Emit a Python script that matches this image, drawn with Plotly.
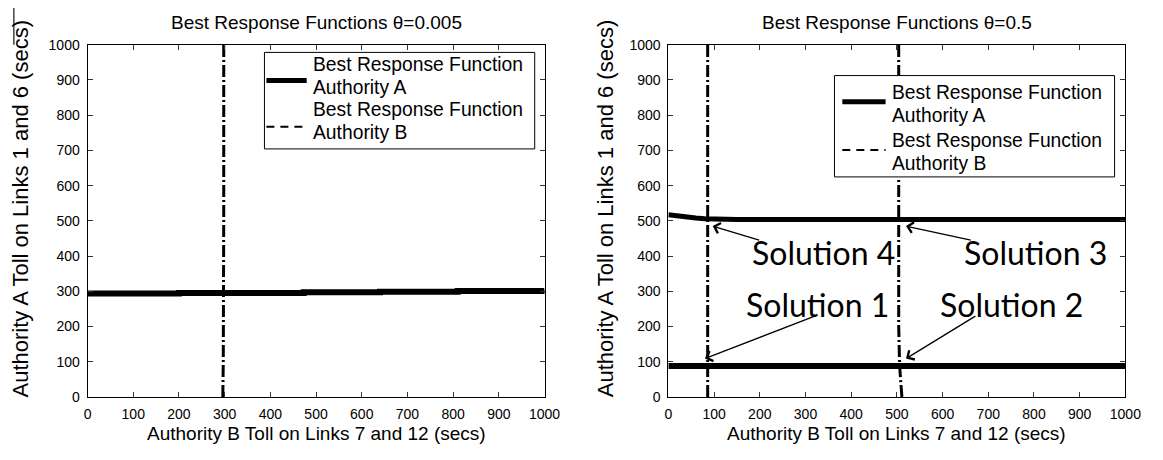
import plotly.graph_objects as go

W, H = 1163, 460

# ---------------- data ----------------
ticks = [0, 100, 200, 300, 400, 500, 600, 700, 800, 900, 1000]

# left panel (theta = 0.005)
left_a_x = [0, 200, 473, 640, 810, 1000]
left_a_y = [294, 295, 297, 299, 301, 303]
left_b_x = [296, 297, 298, 298]
left_b_y = [0, 100, 500, 1000]

# right panel (theta = 0.5)
right_a_low_x = [0, 1000]
right_a_low_y = [88, 88]
right_a_up_x = [0, 20, 40, 60, 80, 100, 150, 1000]
right_a_up_y = [517, 513, 510, 508, 506, 505, 504, 504]
right_b1_x = [86, 86, 86]
right_b1_y = [0, 500, 1000]
right_b2_x = [511, 506, 504, 504]
right_b2_y = [0, 88, 200, 1000]

solution_labels = ["Solution 4", "Solution 3", "Solution 1", "Solution 2"]
solution_text_x = [340, 804, 327, 750]
solution_text_y = [409, 409, 262, 262]
solution_tip_x = [97, 520, 80, 520]
solution_tip_y = [485, 485, 109, 109]
solution_tail_x = [202, 665, 325, 675]
solution_tail_y = [444, 444, 232, 232]

titles = ["Best Response Functions \u03b8=0.005", "Best Response Functions \u03b8=0.5"]
xtitle = "Authority B Toll on Links 7 and 12 (secs)"
ytitle = "Authority A Toll on Links 1 and 6 (secs)"
legend_lines = ["Best Response Function", "Authority A", "Best Response Function", "Authority B"]

# ---------------- layout geometry (pixels) ----------------
L1, R1 = 85, 550
L2, R2 = 676, 1141
TOP, BOT = 38, 403

def px(v):
    return v / W

def py(v):
    return 1 - v / H

FONT = "Liberation Sans, Arial, sans-serif"
DASHDOT = "12px,3px,2px,3px"

fig = go.Figure()

line_a = dict(color="black", width=6)
line_b = dict(color="black", width=3, dash=DASHDOT)

fig.add_trace(go.Scatter(x=left_a_x, y=left_a_y, mode="lines", line=dict(shape="hv", **line_a),
                         showlegend=False, xaxis="x", yaxis="y"))
fig.add_trace(go.Scatter(x=left_b_x, y=left_b_y, mode="lines", line=line_b,
                         showlegend=False, xaxis="x", yaxis="y"))

fig.add_trace(go.Scatter(x=right_a_low_x, y=right_a_low_y, mode="lines", line=line_a,
                         showlegend=False, xaxis="x2", yaxis="y2"))
fig.add_trace(go.Scatter(x=right_a_up_x, y=right_a_up_y, mode="lines", line=dict(color="black", width=5),
                         showlegend=False, xaxis="x2", yaxis="y2"))
fig.add_trace(go.Scatter(x=right_b1_x, y=right_b1_y, mode="lines", line=line_b,
                         showlegend=False, xaxis="x2", yaxis="y2"))
fig.add_trace(go.Scatter(x=right_b2_x, y=right_b2_y, mode="lines", line=line_b,
                         showlegend=False, xaxis="x2", yaxis="y2"))

axis_common = dict(range=[0, 1000], tickvals=ticks, ticktext=[str(t) for t in ticks],
                   ticks="inside", ticklen=5, tickcolor="#333", tickwidth=1,
                   showline=True, linecolor="black", linewidth=1, mirror="ticks",
                   showgrid=False, zeroline=False,
                   tickfont=dict(family=FONT, size=14, color="black"))

fig.update_layout(
    width=W, height=H, margin=dict(l=0, r=0, t=0, b=0),
    paper_bgcolor="white", plot_bgcolor="white", showlegend=False,
    xaxis=dict(domain=[px(L1), px(R1)], anchor="y", ticklabelstandoff=4, **axis_common),
    yaxis=dict(domain=[py(BOT), py(TOP)], anchor="x", ticklabelstandoff=4, **axis_common),
    xaxis2=dict(domain=[px(L2), px(R2)], anchor="y2", ticklabelstandoff=4, **axis_common),
    yaxis2=dict(domain=[py(BOT), py(TOP)], anchor="x2", ticklabelstandoff=4, **axis_common),
)

ann = []
for t, cx in zip(titles, [(L1 + R1) / 2, (L2 + R2) / 2]):
    ann.append(dict(text=t, x=px(cx), y=py(15), xref="paper", yref="paper", showarrow=False,
                    font=dict(family=FONT, size=19, color="black"), xanchor="center", yanchor="middle"))
    ann.append(dict(text=xtitle, x=px(cx), y=py(441), xref="paper", yref="paper", showarrow=False,
                    font=dict(family=FONT, size=19, color="black"), xanchor="center", yanchor="middle"))
for cx in (17, 612):
    ann.append(dict(text=ytitle, x=px(cx), y=py(208), xref="paper", yref="paper", showarrow=False,
                    textangle=-90, font=dict(family=FONT, size=22, color="black"),
                    xanchor="center", yanchor="middle"))

for lab, tx, ty in zip(solution_labels, solution_text_x, solution_text_y):
    ann.append(dict(text=lab, x=tx, y=ty, xref="x2", yref="y2", showarrow=False,
                    font=dict(family="Lato, Carlito, sans-serif", size=32, color="black")))
for hx, hy, tx, ty in zip(solution_tip_x, solution_tip_y, solution_tail_x, solution_tail_y):
    ann.append(dict(text="", x=hx, y=hy, ax=tx, ay=ty, xref="x2", yref="y2", axref="x2", ayref="y2",
                    showarrow=True, arrowhead=4, arrowsize=1.6, arrowwidth=1.3, arrowcolor="black"))

shapes = []
# hand-drawn legend boxes (one per panel)
legend_boxes = [
    dict(box=(265, 46, 540, 146), text_x=312, text_y=(59, 82, 105, 129), sample=(267, 308), sample_y=(75, 123)),
    dict(box=(845, 70, 1130, 175), text_x=902, text_y=(88, 111, 137, 161), sample=(853, 897), sample_y=(97, 147)),
]
for lb in legend_boxes:
    x0, y0, x1, y1 = lb["box"]
    shapes.append(dict(type="rect", xref="paper", yref="paper", x0=px(x0), x1=px(x1), y0=py(y0), y1=py(y1),
                       line=dict(color="black", width=1), fillcolor="white", layer="above"))
    for txt, ty in zip(legend_lines, lb["text_y"]):
        ann.append(dict(text=txt, x=px(lb["text_x"]), y=py(ty), xref="paper", yref="paper", showarrow=False,
                        xanchor="left", yanchor="middle", font=dict(family=FONT, size=19.3, color="black")))
    sx0, sx1 = lb["sample"]
    shapes.append(dict(type="line", xref="paper", yref="paper", x0=px(sx0), x1=px(sx1),
                       y0=py(lb["sample_y"][0]), y1=py(lb["sample_y"][0]),
                       line=dict(color="black", width=5), layer="above"))
    shapes.append(dict(type="line", xref="paper", yref="paper", x0=px(sx0), x1=px(sx1),
                       y0=py(lb["sample_y"][1]), y1=py(lb["sample_y"][1]),
                       line=dict(color="black", width=2, dash="8px,6px"), layer="above"))

shapes.append(dict(type="line", xref="paper", yref="paper", x0=px(10), x1=px(10), y0=py(0), y1=py(38),
                   line=dict(color="#444", width=1.5)))

fig.update_layout(annotations=ann, shapes=shapes)

fig.write_html("out.html")
